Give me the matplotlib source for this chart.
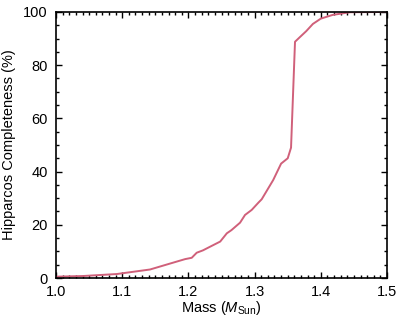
import matplotlib
matplotlib.use("Agg")
import matplotlib.pyplot as plt
from matplotlib.ticker import MultipleLocator

# completeness vs mass
mass = [1.000, 1.041, 1.092, 1.142, 1.180, 1.195, 1.205, 1.2125, 1.222, 1.233,
        1.248, 1.258, 1.265, 1.278, 1.2855, 1.2956, 1.3056, 1.3107, 1.328,
        1.340, 1.350, 1.355, 1.361, 1.369, 1.378, 1.388, 1.400, 1.418, 1.444, 1.500]
completeness = [0.5, 0.75, 1.5, 3.2, 6.0, 7.1, 7.6, 9.5, 10.4, 11.8,
                13.7, 16.8, 18.0, 20.8, 23.7, 25.6, 28.3, 29.6, 36.8,
                43.0, 45.0, 49.0, 88.8, 90.7, 92.8, 95.5, 97.5, 98.9, 99.9, 100.0]

plt.rcParams['font.family'] = ['Liberation Sans', 'DejaVu Sans']
plt.rcParams['mathtext.fontset'] = 'custom'
plt.rcParams['mathtext.rm'] = 'Liberation Sans'
plt.rcParams['mathtext.it'] = 'Liberation Sans:italic'

fig = plt.figure(figsize=(3.99, 3.19), dpi=100)
ax = fig.add_axes([0.1404, 0.1285, 0.8296, 0.834])
ax.plot(mass, completeness, color='#d0607a', lw=1.4)

ax.set_xlim(1.0, 1.5)
ax.set_ylim(0, 100)
ax.xaxis.set_major_locator(MultipleLocator(0.1))
ax.xaxis.set_minor_locator(MultipleLocator(0.01))
ax.yaxis.set_major_locator(MultipleLocator(20))
ax.yaxis.set_minor_locator(MultipleLocator(5))
ax.tick_params(which='both', direction='in', top=True, right=True, labelsize=10.5, width=1)
ax.tick_params(which='major', length=4.5)
ax.tick_params(axis='x', which='major', pad=5)
ax.tick_params(axis='y', which='major', pad=6)
ax.tick_params(which='minor', length=2.5)
for s in ax.spines.values():
    s.set_linewidth(1.2)

ax.set_xlabel(r'Mass ($M_{\mathrm{Sun}}$)', fontsize=10.5, labelpad=0)
ax.set_ylabel('Hipparcos Completeness (%)', fontsize=10.5, labelpad=5)

fig.savefig('out.png', dpi=100)
